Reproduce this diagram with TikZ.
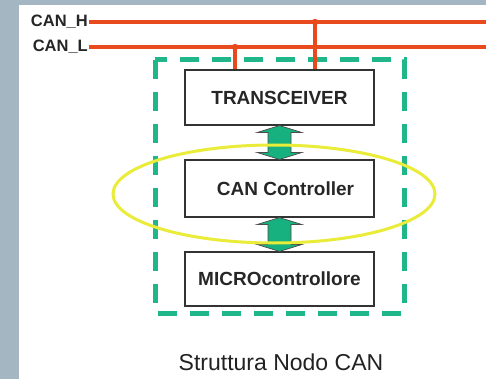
\documentclass[tikz,border=0pt]{standalone}
\usepackage{fontspec}
\setmainfont{Liberation Sans}
\usetikzlibrary{calc}
\definecolor{bgc}{HTML}{A3B6C2}
\definecolor{busred}{HTML}{E84A1E}
\definecolor{dashgreen}{HTML}{1FB68A}
\definecolor{arrgreen}{HTML}{17B07F}
\definecolor{ringyellow}{HTML}{EAEC3A}
\definecolor{captxt}{HTML}{222222}
\tikzset{
  unitbox/.style={draw=black!80, line width=1.1pt, fill=white, minimum width=189pt, inner sep=0pt,
    font=\bfseries\fontsize{19}{22}\selectfont, text=black!85},
  busline/.style={draw=busred, line width=4pt},
  buslabel/.style={anchor=east, inner sep=1pt, font=\bfseries\fontsize{16.5}{18}\selectfont, text=black!85},
  nodeframe/.style={draw=dashgreen, line width=5pt, dash pattern=on 19pt off 13pt},
  arrowfill/.style={fill=arrgreen, draw=black!70, line width=0.7pt, line join=miter},
  ring/.style={draw=ringyellow, line width=3pt},
  caption/.style={font=\fontsize{23}{26}\selectfont, text=captxt}
}
\newcommand{\dblarrow}[2]{%
  \draw[arrowfill] (#1.south) -- ++(-22.5,7) -- ++(11,0) -- ($(#2.north)+(-11.5,-7)$) -- ++(-11,0)
    -- (#2.north) -- ++(22.5,-7) -- ++(-11,0) -- ($(#1.south)+(11.5,7)$) -- ++(11,0) -- cycle;}
\begin{document}
\begin{tikzpicture}[x=1pt,y=-1pt]
\fill[bgc] (0,0) rectangle (486,379);
\fill[white] (19,5) rectangle (486,379);
\useasboundingbox (0,0) rectangle (486,379);
% frame
\draw[nodeframe] (155,60) rectangle (404,313);
% boxes
\node[unitbox, minimum height=55pt] (trans) at (279.5,97.5) {TRANSCEIVER};
\node[unitbox, minimum height=57pt] (ctrl) at (279.5,188.5) {\hspace*{12pt}CAN Controller};
\node[unitbox, minimum height=54pt] (micro) at (279.5,279) {MICROcontrollore};
% arrows
\dblarrow{trans}{ctrl}
\dblarrow{ctrl}{micro}
% ring
\draw[ring] (274,194) ellipse [x radius=161, y radius=49];
% bus
\node[buslabel] (lh) at (89,22) {CAN\_H};
\node[buslabel] (ll) at (89,47) {CAN\_L};
\coordinate (eh) at (486,22);
\coordinate (el) at (486,47);
\coordinate (th) at (315,22);
\coordinate (tl) at (235,47);
\draw[busline] (th) -- (th |- trans.north);
\draw[busline] (tl) -- (tl |- trans.north);
\fill[busred] (th) circle (3.2);
\fill[busred] (tl) circle (3.2);
\draw[busline] (lh.east) -- (eh);
\draw[busline] (ll.east) -- (el);
% caption
\node[caption] (cap) at (281,362) {Struttura Nodo CAN};
\end{tikzpicture}
\end{document}
